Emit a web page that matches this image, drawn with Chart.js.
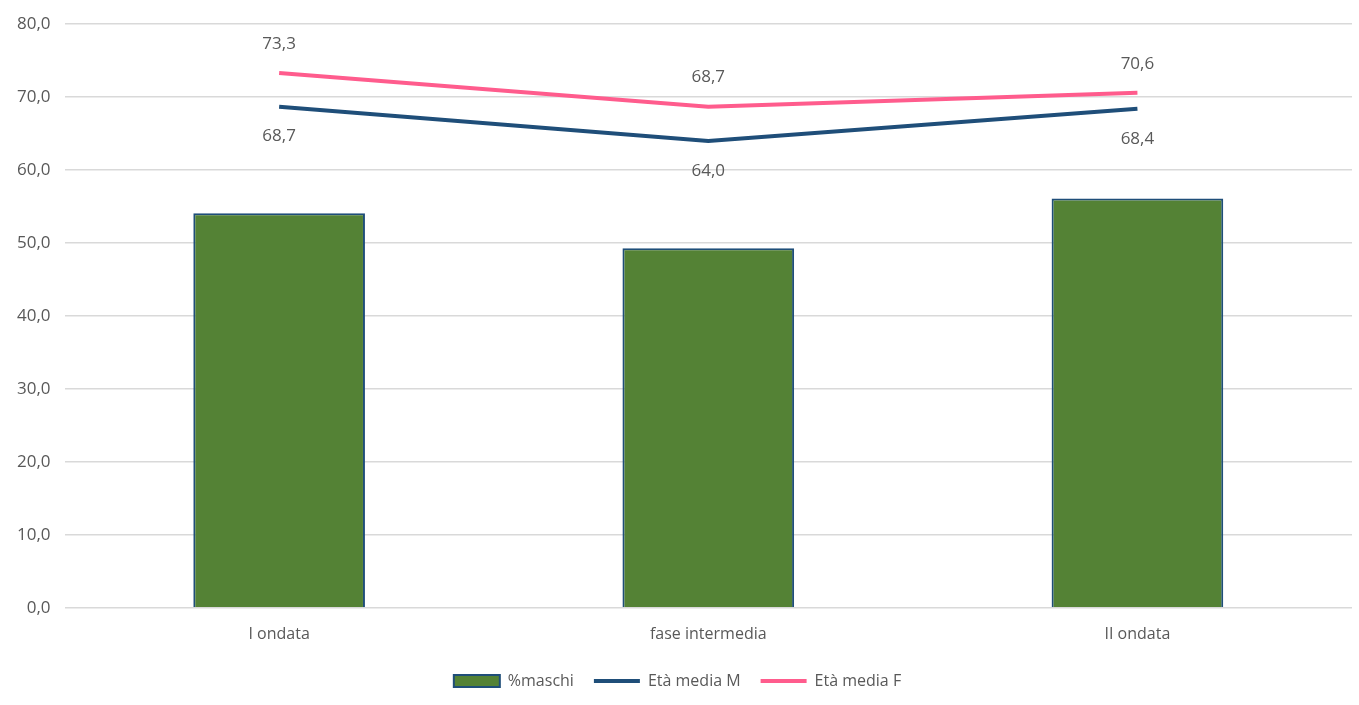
<!DOCTYPE html>
<html>
<head>
<meta charset="utf-8">
<script src="https://cdn.jsdelivr.net/npm/chart.js@4"></script>
<style>
  html, body { margin: 0; padding: 0; background: #fff; }
  #wrap { width: 1359px; height: 705px; }
</style>
</head>
<body>
<div id="wrap"><canvas id="chart"></canvas></div>
<script>
const categories = ['I ondata', 'fase intermedia', 'II ondata'];
const percMaschi = [54.1, 49.3, 56.1];
const etaMediaM = [68.7, 64.0, 68.4];
const etaMediaF = [73.3, 68.7, 70.6];
const yTicks = [0, 10, 20, 30, 40, 50, 60, 70, 80];

const TEXT = '#595959';
const FONT = "'Open Sans', 'Liberation Sans', sans-serif";

const fmt = v => v.toFixed(1).replace('.', ',');

// simple point labels for the two line series
const lineLabels = {
    id: 'lineLabels',
    afterDatasetsDraw(chart) {
        const ctx = chart.ctx;
        chart.data.datasets.forEach((ds, i) => {
            if (ds.labelOffset === undefined) return;
            const meta = chart.getDatasetMeta(i);
            ctx.save();
            ctx.font = '17px ' + FONT;
            ctx.fillStyle = TEXT;
            ctx.textAlign = 'center';
            ctx.textBaseline = 'middle';
            meta.data.forEach((pt, j) => {
                ctx.fillText(fmt(ds.data[j]), pt.x, pt.y + ds.labelOffset);
            });
            ctx.restore();
        });
    }
};

new Chart(document.getElementById('chart'), {
    type: 'bar',
    data: {
        labels: categories,
        datasets: [
            {
                label: '%maschi',
                data: percMaschi,
                backgroundColor: '#548235',
                borderColor: '#1f4e79',
                borderWidth: 2,
                barPercentage: 0.4,
                categoryPercentage: 1,
                order: 3
            },
            {
                type: 'line',
                label: 'Età media M',
                data: etaMediaM,
                borderColor: '#1f4e79',
                backgroundColor: '#1f4e79',
                borderWidth: 4,
                pointRadius: 0,
                tension: 0,
                labelOffset: 30,
                order: 2
            },
            {
                type: 'line',
                label: 'Età media F',
                data: etaMediaF,
                borderColor: '#ff5c8d',
                backgroundColor: '#ff5c8d',
                borderWidth: 4,
                pointRadius: 0,
                tension: 0,
                labelOffset: -29,
                order: 1
            }
        ]
    },
    options: {
        responsive: true,
        maintainAspectRatio: false,
        animation: false,
        layout: { padding: { top: 22, right: 7, left: 3, bottom: 6 } },
        plugins: {
            tooltip: { enabled: false },
            legend: {
                position: 'bottom',
                maxHeight: 49,
                labels: {
                    color: TEXT,
                    font: { family: FONT, size: 16 },
                    usePointStyle: true,
                    pointStyleWidth: 46,
                    boxHeight: 12,
                    padding: 20,
                    generateLabels(chart) {
                        return chart.data.datasets.map((ds, i) => ({
                            text: ds.label,
                            datasetIndex: i,
                            fillStyle: ds.backgroundColor,
                            strokeStyle: ds.borderColor,
                            lineWidth: ds.type === 'line' ? 4 : 2,
                            pointStyle: ds.type === 'line' ? 'line' : 'rect',
                            fontColor: TEXT,
                            hidden: false
                        }));
                    }
                }
            }
        },
        scales: {
            x: {
                grid: { display: false },
                border: { display: false },
                ticks: { color: TEXT, font: { family: FONT, size: 16 }, padding: 9 }
            },
            y: {
                min: 0,
                max: 80,
                afterBuildTicks(axis) { axis.ticks = yTicks.map(v => ({ value: v })); },
                grid: { color: '#d9d9d9', lineWidth: 1.5, drawTicks: false },
                border: { display: false },
                ticks: {
                    color: TEXT,
                    font: { family: FONT, size: 17 },
                    padding: 14,
                    callback: v => fmt(v)
                }
            }
        }
    },
    plugins: [lineLabels]
});
</script>
</body>
</html>
